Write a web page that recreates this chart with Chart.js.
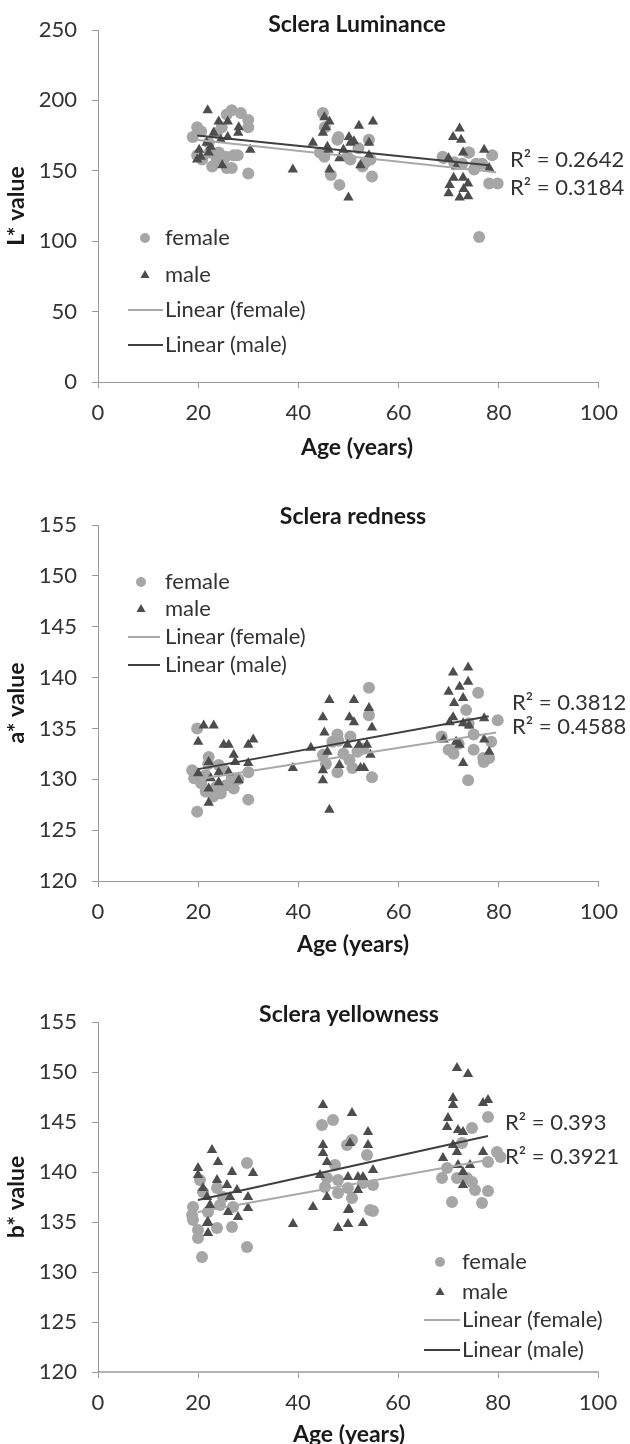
<!DOCTYPE html>
<html>
<head>
<meta charset="utf-8">
<script src="https://cdn.jsdelivr.net/npm/chart.js@4.4.0/dist/chart.umd.min.js"></script>
<style>
  html, body { margin: 0; padding: 0; background: #fff; }
  #wrap { position: relative; width: 630px; height: 1444px; }
  canvas { position: absolute; left: 0; }
</style>
</head>
<body>
<div id="wrap">
  <canvas id="c-lum" width="630" height="460" style="top:0"></canvas>
  <canvas id="c-red" width="630" height="500" style="top:460px"></canvas>
  <canvas id="c-yel" width="630" height="484" style="top:960px"></canvas>
</div>
<script>
// ---- data: [age, value] ----
var ageTicks = [0, 20, 40, 60, 80, 100];

var lumFemale = [
  [18.9,174],[19.8,181],[20.6,178],[19.8,161],[20.8,158],[22.1,170],[22.3,163],[22.8,153],[23.7,177],[23.7,158],
  [24.1,163],[24.7,181],[25.5,160],[25.7,190],[25.7,152],[26.7,193],[26.7,152],[27.1,161],[27.9,161],[28.5,191],
  [30,186],[30,181],[30,148],
  [44.3,163],[44.9,191],[45.2,160],[45.3,181],[46.5,147],[47.8,172],[48,174],[48.2,140],[49.8,160],[50.4,158],
  [52,166],[52.8,153],[53.4,156],[54.1,172],[54.4,158],[54.7,146],
  [68.8,160],[69,159],[71.1,156],[72.7,155],[73.9,163],[74.1,163],[75.1,151],[75.5,155],[76.1,103],[76.7,155],
  [78.1,141],[78.7,161],[79.8,141]
];
var lumMale = [
  [19.8,158],[20.2,165],[20.5,160],[21.7,170],[21.9,193],[22.1,163],[22.5,167],[23.1,177],[24.1,185],[24.5,172],
  [24.8,154],[25.9,185],[25.9,174],[28,177],[28.1,181],[30.4,165],
  [38.9,151],[42.9,170],
  [44.9,177],[45.2,188],[45.5,181],[45.8,167],[46,165],[46.2,185],[46.2,151],[48.2,159],[49,165],[50,131],
  [50.1,174],[50.4,170],[51.1,171],[52.1,182],[52.4,154],[54.1,170],[54.1,161],[54.9,185],
  [70,159],[70,134],[70.2,140],[70.9,174],[71,145],[71.5,153],[72.2,180],[72.2,131],[72.5,172],[72.9,163],
  [72.9,145],[73,137],[73.9,141],[73.9,132],[77.1,165],[78.1,152]
];
var lumFemaleTrend = [[19.5,172],[79.5,149]];
var lumMaleTrend = [[19.8,175],[78,154]];
var lumR2 = ['0.2642', '0.3184'];

var redFemale = [
  [18.8,130.9],[19.2,130.1],[19.8,135],[19.8,126.8],[20.6,129.6],[21.5,128.8],[21.5,130.4],[22,131.5],[22.1,132.2],
  [23,128.3],[23.5,129.2],[24.1,131.4],[24.5,128.6],[25,131],[25.5,129.4],[26.7,130.1],[27.1,129.1],[28,130],
  [30,130.7],[30,128],
  [44.9,132.4],[45.5,131.5],[46.8,133.7],[47.8,134.4],[47.8,130.7],[48,133.8],[49,132.5],[50.2,131.9],[50.4,134.2],
  [50.8,131.1],[51.8,132.7],[53,133],[54.1,139],[54.1,136.3],[54.7,130.2],
  [68.6,134.2],[70,132.9],[71,132.5],[72,133.5],[73.5,136.8],[73.9,129.9],[74,135.5],[75,132.9],[75,134.4],
  [75.9,138.5],[76.9,132.1],[77,131.7],[78.1,132.1],[78.5,133.7],[79.8,135.8]
];
var redMale = [
  [20,133.7],[20,130.6],[21.1,135.3],[22.1,131.7],[22.1,129.1],[22.1,127.7],[22.5,130.1],[23.1,135.3],[24.1,130.7],
  [24.1,129.7],[25.1,133.4],[26.1,133.4],[26.1,130.7],[27.1,132.4],[27.4,131.7],[28.1,129.9],[30,133.4],[30,131.6],
  [31,133.9],
  [38.9,131.1],[42.5,133.1],
  [44.9,136.1],[44.9,130.9],[44.9,129.9],[45.2,134.6],[45.8,132.7],[46.2,137.8],[46.2,127],[48.2,131.4],[49.8,133.4],
  [50.2,136.1],[51.1,137.8],[51.1,135.6],[52.1,133.4],[52.4,131.1],[53.1,131.1],[53.7,133.4],[54.1,137],[54.4,132.4],
  [54.7,135.1],
  [69,133.9],[70,138.6],[70.2,135.6],[70.9,140.5],[70.9,136.1],[71.1,137.5],[71.5,133.7],[72.2,139.1],[72.2,133.4],
  [72.9,138],[72.9,135.5],[72.9,131.6],[73.9,141],[73.9,139.6],[74.1,135.3],[77.1,136],[77.1,133.9],[78.1,132.7]
];
var redFemaleTrend = [[20,130],[79.5,134.6]];
var redMaleTrend = [[20,131],[78,136.2]];
var redR2 = ['0.3812', '0.4588'];

var yelFemale = [
  [18.8,135.7],[19,136.5],[19,135.2],[20,134.2],[20,133.4],[20.4,139.2],[20.8,131.5],[21,138],[22,136],[23.8,138.4],
  [23.8,134.4],[24.4,136.7],[25,137.5],[26.8,134.5],[27,136.5],[29.8,140.9],[29.8,132.5],
  [44.8,144.7],[45.4,138.5],[45.8,139.4],[47,145.2],[47.4,140.7],[48,139.2],[48,137.9],[49.8,142.7],[50,138.4],
  [50.8,143.2],[50.8,137.4],[53,138.9],[53.8,141.7],[54.4,136.2],[55,138.7],[55,136.1],
  [68.8,139.4],[69.8,140.4],[70.8,137],[71.8,139.4],[72.8,142.9],[73.8,139.4],[74.8,144.4],[74.8,139],[75.4,138.2],
  [76.8,136.9],[78,145.5],[78,141],[78,138.1],[79.8,142],[80.5,141.5]
];
var yelMale = [
  [20,140.4],[20,139.7],[21,138.4],[21.8,137.5],[21.8,134.9],[22,135],[22,133.9],[22.4,136.7],[22.8,142.2],[23.8,139.2],
  [24,141],[25.8,138.7],[26,136],[26.4,137.5],[26.8,140],[27.8,138.2],[28,135.5],[30,137.5],[30,136.4],[31,139.9],
  [39,134.8],[43,136.5],
  [44.4,139.7],[45,146.7],[45,142.7],[45,141.9],[45.8,141],[45.8,137.5],[48,134.4],[50,139.5],[50,136.2],[50,134.8],
  [50.2,136.3],[50.4,142.9],[50.8,145.9],[52,139.5],[52,138.2],[53,139.5],[53,134.9],[54,144],[54,142.7],[55,140.2],
  [69,141.4],[69.8,144.5],[70,145.4],[71,147.4],[71,146.7],[71,142.7],[71.8,150.4],[71.8,142],[72,144.2],[72,140.7],
  [73,144],[73,140],[73,138.7],[74,149.8],[74.4,140.7],[77,146.9],[77,142],[78,147.2]
];
var yelFemaleTrend = [[20,136],[79,141.3]];
var yelMaleTrend = [[20,137.2],[78,143.6]];
var yelR2 = ['0.393', '0.3921'];

// ---- styles ----
var FEMALE = '#a6a6a6';
var MALE = '#4d4d4d';
var FEMALE_LINE = '#a9a9a9';
var MALE_LINE = '#3f3f3f';
var AXIS = '#9a9a9a';
var TEXT = '#333';
var FONT = 'Lato';

function toXY(rows) {
  return rows.map(function (r) { return { x: r[0], y: r[1] }; });
}

function decorPlugin(d) {
  return {
    id: 'decor',
    afterDraw: function (chart) {
      var ctx = chart.ctx, a = chart.chartArea;
      ctx.save();
      ctx.textBaseline = 'middle';
      ctx.fillStyle = '#1a1a1a';
      ctx.font = 'bold 23px ' + FONT;
      ctx.textAlign = 'center';
      ctx.fillText(d.title, d.titleX, d.titleY);
      ctx.fillText('Age (years)', d.titleX, d.xTitleY);
      ctx.save();
      ctx.translate(d.yTitleX, (a.top + a.bottom) / 2);
      ctx.rotate(-Math.PI / 2);
      ctx.fillText(d.yTitle, 0, 0);
      ctx.restore();

      ctx.font = '22px ' + FONT;
      ctx.fillStyle = TEXT;
      ctx.textAlign = 'left';
      d.r2.forEach(function (t, i) {
        ctx.fillText('R\u00b2 = ' + t, d.r2X, d.r2Y[i]);
      });

      // legend
      var L = d.legend;
      var names = ['female', 'male', 'Linear (female)', 'Linear (male)'];
      names.forEach(function (n, i) {
        var y = L.rows[i];
        if (i === 0) {
          ctx.fillStyle = FEMALE;
          ctx.beginPath();
          ctx.arc(L.markX, y, 5, 0, Math.PI * 2);
          ctx.fill();
        } else if (i === 1) {
          ctx.fillStyle = MALE;
          ctx.beginPath();
          ctx.moveTo(L.markX, y - 5);
          ctx.lineTo(L.markX + 4.5, y + 3);
          ctx.lineTo(L.markX - 4.5, y + 3);
          ctx.closePath();
          ctx.fill();
        } else {
          ctx.strokeStyle = i === 2 ? FEMALE_LINE : MALE_LINE;
          ctx.lineWidth = 2;
          ctx.beginPath();
          ctx.moveTo(L.lineX0, y);
          ctx.lineTo(L.lineX1, y);
          ctx.stroke();
        }
        ctx.fillStyle = TEXT;
        ctx.fillText(n, L.textX, y);
      });
      ctx.restore();
    }
  };
}

function makeChart(id, c) {
  var tickFont = { family: FONT, size: 22 };
  return new Chart(document.getElementById(id), {
    type: 'scatter',
    data: {
      datasets: [
        { label: 'Linear (male)', data: toXY(c.maleTrend), showLine: true, borderColor: MALE_LINE, borderWidth: 2, pointRadius: 0, order: 0 },
        { label: 'Linear (female)', data: toXY(c.femaleTrend), showLine: true, borderColor: FEMALE_LINE, borderWidth: 2, pointRadius: 0, order: 1 },
        { label: 'male', data: toXY(c.male), pointStyle: 'triangle', pointRadius: 6, backgroundColor: MALE, borderWidth: 0, order: 2 },
        { label: 'female', data: toXY(c.female), pointStyle: 'circle', pointRadius: 6, backgroundColor: FEMALE, borderWidth: 0, order: 3 }
      ]
    },
    options: {
      responsive: false,
      animation: false,
      events: [],
      layout: { padding: { top: c.top, right: c.right, left: 0, bottom: 0 } },
      plugins: { legend: { display: false }, tooltip: { enabled: false } },
      scales: {
        x: {
          type: 'linear', min: 0, max: 100,
          afterBuildTicks: function (s) { s.ticks = ageTicks.map(function (v) { return { value: v }; }); },
          ticks: { font: tickFont, color: TEXT, padding: 12, maxRotation: 0 },
          grid: { drawOnChartArea: false, drawTicks: true, tickLength: 6, color: AXIS },
          border: { color: c.xAxisColor || AXIS, width: c.xAxisWidth || 1 },
          afterFit: function (s) { s.height = c.xh; }
        },
        y: {
          min: c.yTicks[0], max: c.yTicks[c.yTicks.length - 1],
          afterBuildTicks: function (s) { s.ticks = c.yTicks.map(function (v) { return { value: v }; }); },
          ticks: { font: tickFont, color: TEXT, padding: 15 },
          grid: { drawOnChartArea: false, drawTicks: true, tickLength: 6, color: AXIS },
          border: { color: AXIS, width: 1 },
          afterFit: function (s) { s.width = 98; }
        }
      }
    },
    plugins: [decorPlugin(c.decor)]
  });
}

makeChart('c-lum', {
  female: lumFemale, male: lumMale, femaleTrend: lumFemaleTrend, maleTrend: lumMaleTrend,
  yTicks: [0, 50, 100, 150, 200, 250],
  top: 30, right: 26, xh: 78,
  decor: {
    title: 'Sclera Luminance', titleX: 357, titleY: 25, xTitleY: 448, yTitle: 'L* value', yTitleX: 17,
    r2: lumR2, r2X: 510, r2Y: [160, 188],
    legend: { markX: 145, textX: 165, lineX0: 128, lineX1: 163, rows: [238, 275, 310, 345] }
  }
});

makeChart('c-red', {
  female: redFemale, male: redMale, femaleTrend: redFemaleTrend, maleTrend: redMaleTrend,
  yTicks: [120, 125, 130, 135, 140, 145, 150, 155],
  top: 65, right: 26, xh: 79,
  decor: {
    title: 'Sclera redness', titleX: 353, titleY: 57, xTitleY: 485, yTitle: 'a* value', yTitleX: 17,
    r2: redR2, r2X: 512, r2Y: [243, 267],
    legend: { markX: 141, textX: 165, lineX0: 128, lineX1: 160, rows: [122, 149, 177, 205] }
  }
});

makeChart('c-yel', {
  female: yelFemale, male: yelMale, femaleTrend: yelFemaleTrend, maleTrend: yelMaleTrend,
  yTicks: [120, 125, 130, 135, 140, 145, 150, 155],
  top: 62, right: 32, xh: 72, xAxisColor: '#b3b3b3', xAxisWidth: 2,
  decor: {
    title: 'Sclera yellowness', titleX: 349, titleY: 55, xTitleY: 475, yTitle: 'b* value', yTitleX: 17,
    r2: yelR2, r2X: 505, r2Y: [163, 197],
    legend: { markX: 440, textX: 462, lineX0: 424, lineX1: 460, rows: [302, 332, 360, 390] }
  }
});
</script>
</body>
</html>
